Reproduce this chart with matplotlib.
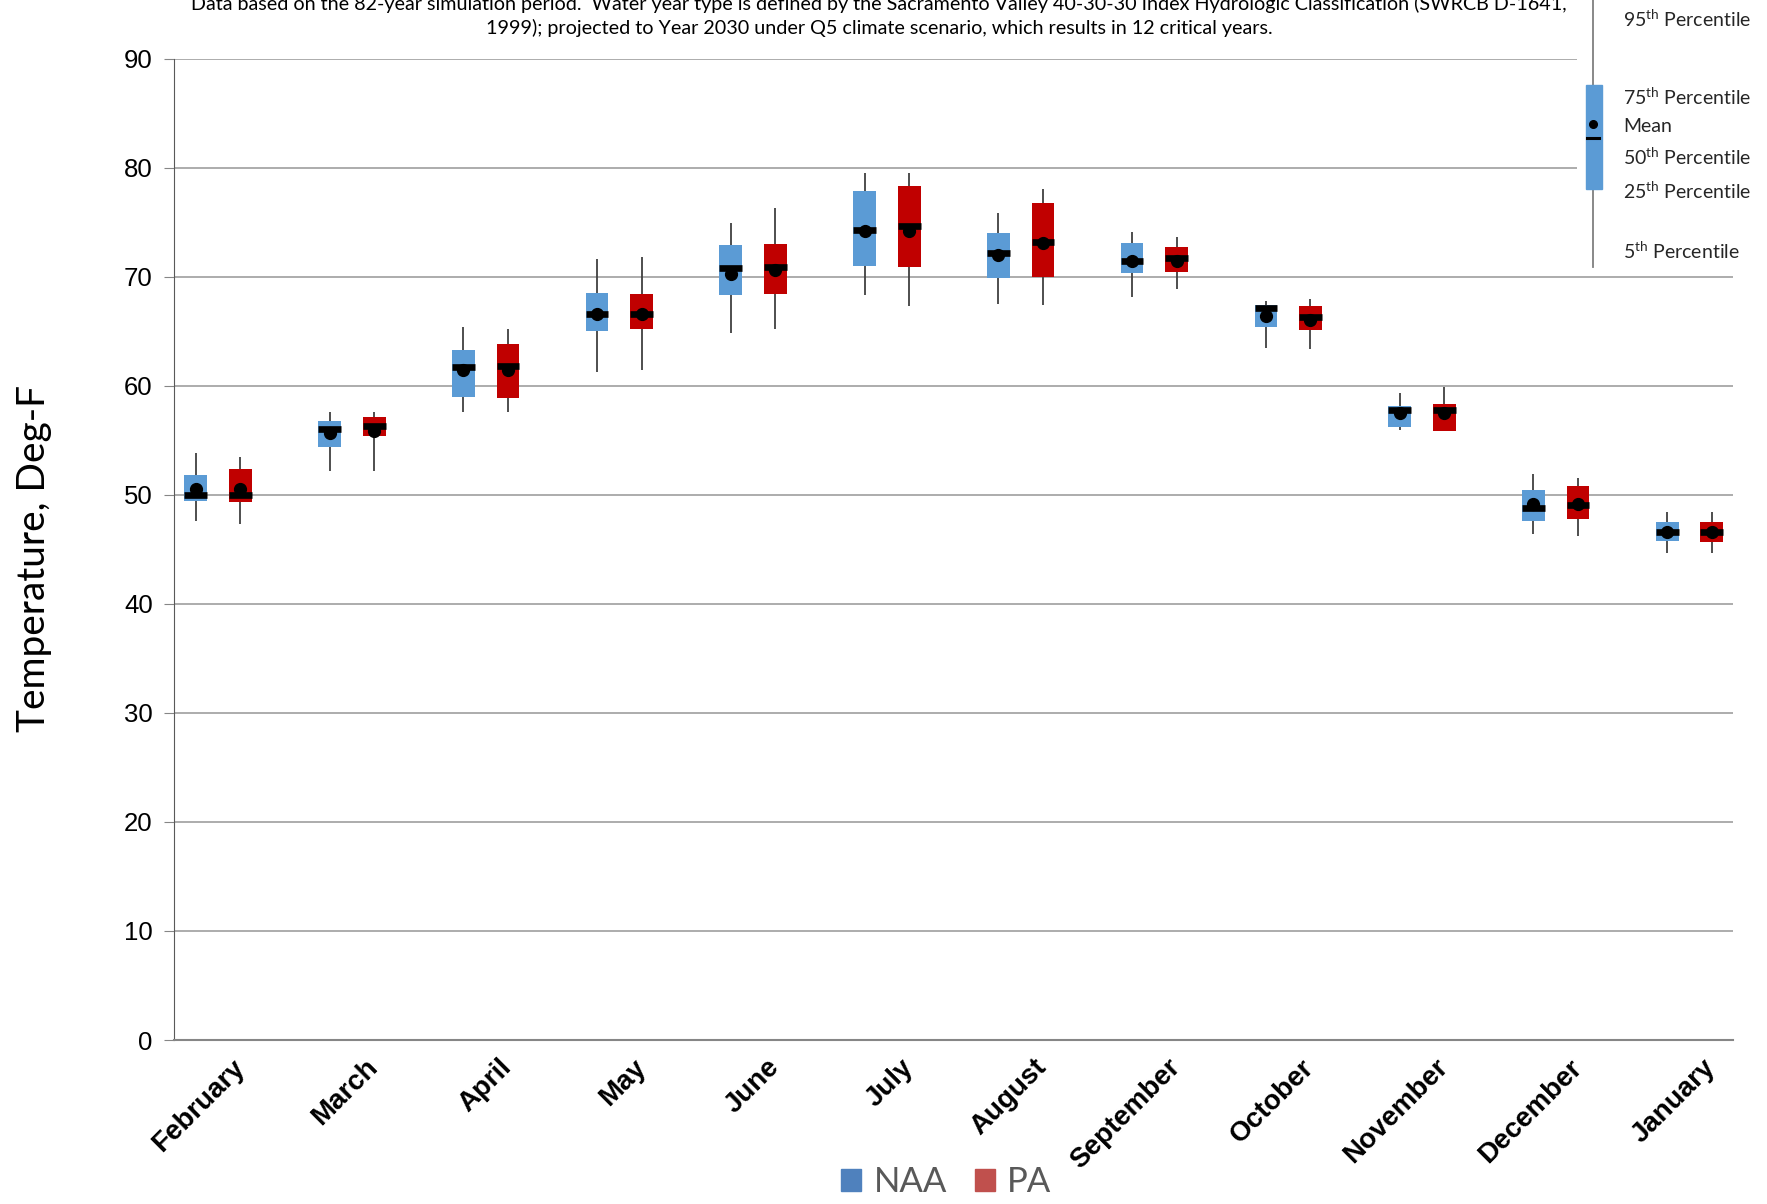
import matplotlib
matplotlib.use("Agg")
import matplotlib.pyplot as plt
from matplotlib.patches import Patch, Rectangle
import numpy as np

plt.rcParams['mathtext.fontset'] = 'custom'
plt.rcParams['mathtext.rm'] = 'Lato'

# Month categories and percentile summaries (deg F)
months = ['February', 'March', 'April', 'May', 'June', 'July', 'August',
          'September', 'October', 'November', 'December', 'January']

naa_p5 = [47.6, 52.2, 57.55, 61.3, 64.8, 68.3, 67.5, 68.1, 63.5, 55.9, 46.4, 44.7]
naa_p25 = [49.4, 54.4, 59.0, 65.0, 68.3, 71.0, 69.85, 70.3, 65.4, 56.2, 47.6, 45.75]
naa_p50 = [50.0, 56.0, 61.75, 66.6, 70.8, 74.3, 72.2, 71.4, 67.15, 57.8, 48.75, 46.55]
naa_mean = [50.55, 55.65, 61.4, 66.6, 70.25, 74.2, 72.0, 71.45, 66.4, 57.5, 49.15, 46.55]
naa_p75 = [51.8, 56.8, 63.3, 68.5, 72.9, 77.9, 74.0, 73.1, 67.45, 58.1, 50.45, 47.5]
naa_p95 = [53.8, 57.6, 65.35, 71.6, 74.9, 79.5, 75.8, 74.1, 67.75, 59.3, 51.95, 48.4]

pa_p5 = [47.3, 52.2, 57.6, 61.45, 65.25, 67.35, 67.4, 68.9, 63.35, 55.85, 46.25, 44.7]
pa_p25 = [49.3, 55.35, 58.9, 65.2, 68.45, 70.9, 70.0, 70.45, 65.1, 55.85, 47.75, 45.65]
pa_p50 = [50.0, 56.3, 61.8, 66.55, 70.85, 74.65, 73.2, 71.7, 66.3, 57.8, 49.1, 46.55]
pa_mean = [50.55, 55.85, 61.4, 66.6, 70.6, 74.2, 73.05, 71.45, 66.0, 57.5, 49.15, 46.55]
pa_p75 = [52.35, 57.1, 63.85, 68.4, 73.0, 78.35, 76.8, 72.7, 67.3, 58.35, 50.8, 47.5]
pa_p95 = [53.5, 57.6, 65.25, 71.85, 76.3, 79.5, 78.05, 73.65, 67.95, 59.9, 51.5, 48.4]

naa_color = '#5B9BD5'
pa_color = '#C00000'

fig = plt.figure(figsize=(17.67, 12.04), dpi=100)
ax = fig.add_axes([0.0982, 0.1362, 0.8826, 0.8151])

x = np.arange(len(months))
box_w = 0.17


def draw_boxes(pos, p5, p25, p50, mean, p75, p95, color):
    p5, p25, p50 = np.array(p5), np.array(p25), np.array(p50)
    p75, p95 = np.array(p75), np.array(p95)
    ax.vlines(pos, p5, p95, color='#404040', lw=1.3, zorder=2)
    ax.bar(pos, p75 - p25, bottom=p25, width=box_w, color=color, zorder=3)
    ax.hlines(p50, pos - box_w / 2, pos + box_w / 2, color='black', lw=4.8, zorder=4)
    ax.plot(pos, mean, 'o', color='black', ms=8.5, zorder=5)


draw_boxes(x - 0.333, naa_p5, naa_p25, naa_p50, naa_mean, naa_p75, naa_p95, naa_color)
draw_boxes(x, pa_p5, pa_p25, pa_p50, pa_mean, pa_p75, pa_p95, pa_color)

ax.set_xlim(-0.5, 11.16)
ax.set_ylim(0, 90)
ax.set_yticks(np.arange(0, 91, 10))
ax.yaxis.grid(True, color='#A6A6A6', lw=1.3)
ax.set_axisbelow(True)
for s in ['top', 'right']:
    ax.spines[s].set_visible(False)
ax.spines['left'].set_color('#595959')
ax.spines['bottom'].set_color('#868686')
ax.spines['bottom'].set_linewidth(1.5)
ax.tick_params(axis='y', length=7, color='#868686', pad=8, labelsize=18.5)
ax.tick_params(axis='x', length=0, pad=17)
ax.set_xticks(x)
ax.set_xticklabels(months, rotation=45, ha='right', va='center',
                   rotation_mode='anchor', fontsize=20, fontweight='bold')
for lab in ax.get_yticklabels() + ax.get_xticklabels():
    lab.set_family('Liberation Sans')

fig.text(0.0195, 0.5365, 'Temperature, Deg-F', rotation=90, ha='center', va='center',
         fontsize=28, family='Lato')

fig.text(0.4974, 0.9965, 'Data based on the 82-year simulation period.  Water year type is defined by the '
         'Sacramento Valley 40-30-30 Index Hydrologic Classification (SWRCB D-1641,',
         ha='center', va='center', fontsize=14.2, family='Lato')
fig.text(0.4974, 0.9765, '1999); projected to Year 2030 under Q5 climate scenario, which results in 12 critical years.',
         ha='center', va='center', fontsize=14.2, family='Lato')

# percentile key in the upper right (pixel-style local coordinates)
kx0, ky_top, kw, kh = 1577, 0, 190, 272
kax = fig.add_axes([kx0 / 1767, 1 - (ky_top + kh) / 1204, kw / 1767, kh / 1204])
kax.set_xlim(0, kw)
kax.set_ylim(kh, 0)
kax.axis('off')
kax.add_patch(Rectangle((0, 0), kw, kh, color='white', zorder=0))
kax.plot([16, 16], [0, 267], color='#7F7F7F', lw=1.3, zorder=1)
kax.add_patch(Rectangle((8.5, 84.5), 16, 104.5, color=naa_color, zorder=2))
kax.plot([15.5], [124], 'o', color='black', ms=5.5, zorder=3)
kax.plot([10, 22], [137.5, 137.5], color='black', lw=2.2, zorder=3)
key_labels = [r'95$^{\mathrm{th}}$ Percentile', r'75$^{\mathrm{th}}$ Percentile', 'Mean',
              r'50$^{\mathrm{th}}$ Percentile', r'25$^{\mathrm{th}}$ Percentile', r'5$^{\mathrm{th}}$ Percentile']
key_y = [19, 97, 126, 157, 190.5, 251]
for lbl, yy in zip(key_labels, key_y):
    kax.text(46, yy, lbl, ha='left', va='center', fontsize=14, family='Lato', color='#262626')

handles = [Patch(color='#4F81BD', label='NAA'), Patch(color='#C0504D', label='PA')]
fig.legend(handles=handles, loc='center', bbox_to_anchor=(0.5355, 0.018), ncol=2, frameon=False,
           prop={'family': 'Lato', 'size': 25}, labelcolor='#595959',
           handlelength=0.58, handleheight=0.58, handletextpad=0.35, columnspacing=0.8)

fig.savefig('out.png', dpi=100)
